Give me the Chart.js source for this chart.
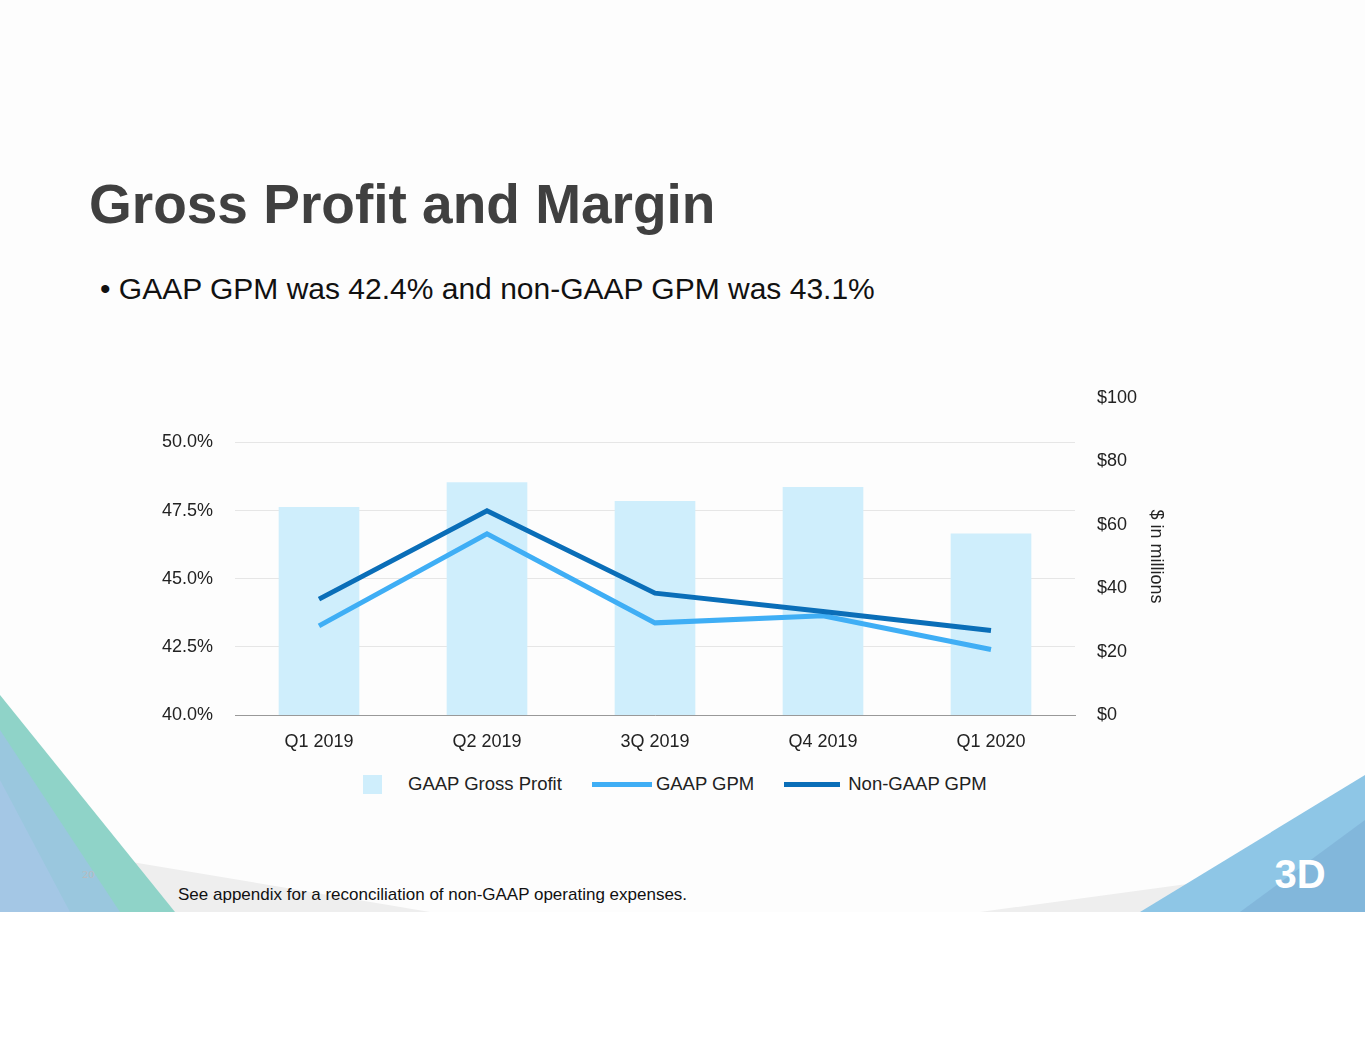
<!DOCTYPE html>
<html>
<head>
<meta charset="utf-8">
<script src="https://cdn.jsdelivr.net/npm/chart.js@4"></script>
<style>
  body { margin: 0; width: 1365px; height: 1055px; background: #fff; font-family: "Liberation Sans", Arial, sans-serif; position: relative; overflow: hidden; }
  .slide { position: absolute; left: 0; top: 0; width: 1365px; height: 912px; background: #fdfdfd; overflow: hidden; }
  .title { position: absolute; left: 89px; top: 172px; font-size: 55px; font-weight: bold; color: #404040; }
  .bullet { position: absolute; left: 100px; top: 272px; font-size: 30px; color: #111; }
  .tri { position: absolute; left: 0; top: 0; width: 1365px; height: 912px; }
  #wrap { position: absolute; left: 150px; top: 365px; width: 1017px; height: 395px; }
  .legend { position: absolute; top: 773px; left: 363px; font-size: 18.5px; color: #222; display: flex; align-items: center; }
  .legend span { display: inline-flex; align-items: center; margin-right: 30px; }
  .sw { display: inline-block; margin-right: 26px; }
  .foot { position: absolute; left: 178px; top: 885px; font-size: 17px; color: #111; }
  .pg { position: absolute; left: 82px; top: 869px; font-size: 10px; color: #bbb; font-family: "DejaVu Serif", serif; }
</style>
</head>
<body>
<div class="slide">
  <svg class="tri" viewBox="0 0 1365 912">
    <polygon points="0,840 430,912 0,912" fill="#eeeeee"/>
    <polygon points="980,912 1365,860 1365,912" fill="#eeeeee"/>
    <polygon points="0,695 175,912 0,912" fill="#8fd3c8"/>
    <polygon points="0,730 120,912 0,912" fill="#9cc4e4" opacity="0.8"/>
    <polygon points="0,780 70,912 0,912" fill="#a8c8e8" opacity="0.7"/>
    <polygon points="1365,775 1140,912 1365,912" fill="#8ec6e6"/>
    <polygon points="1365,820 1240,912 1365,912" fill="#7fb3d8" opacity="0.8"/>
    <text x="1300" y="888" font-size="40" font-weight="bold" fill="#fff" font-family="Liberation Sans" text-anchor="middle">3D</text>
  </svg>
  <div class="title">Gross Profit and Margin</div>
  <div class="bullet">• GAAP GPM was 42.4% and non-GAAP GPM was 43.1%</div>
  <div class="pg">20</div>
  <div class="foot">See appendix for a reconciliation of non-GAAP operating expenses.</div>
</div>
<div id="wrap"><canvas id="c"></canvas></div>
<div class="legend">
  <span><i class="sw" style="width:19px;height:19px;background:#cfeefc"></i>GAAP Gross Profit</span>
  <span><i class="sw" style="width:60px;height:5px;background:#3faef5;margin-right:4px"></i>GAAP GPM</span>
  <span><i class="sw" style="width:56px;height:5px;background:#0a6eb8;margin-right:8px"></i>Non-GAAP GPM</span>
</div>
<script>
const quarters = ["Q1 2019", "Q2 2019", "3Q 2019", "Q4 2019", "Q1 2020"];
const grossProfit = [65.6, 73.4, 67.5, 71.9, 57.2];
const gaapGpm = [43.27, 46.65, 43.38, 43.64, 42.4];
const nonGaapGpm = [44.25, 47.49, 44.47, 43.8, 43.1];

const tickFont = { family: "Liberation Sans", size: 18 };

new Chart(document.getElementById("c"), {
  data: {
    labels: quarters,
    datasets: [
      { type: "line", label: "Non-GAAP GPM", data: nonGaapGpm, yAxisID: "y", borderColor: "#0a6eb8", borderWidth: 5, pointRadius: 0, tension: 0, order: 1 },
      { type: "line", label: "GAAP GPM", data: gaapGpm, yAxisID: "y", borderColor: "#3faef5", borderWidth: 5, pointRadius: 0, tension: 0, order: 2 },
      { type: "bar", label: "GAAP Gross Profit", data: grossProfit, yAxisID: "y1", backgroundColor: "#cfeefc", barPercentage: 0.48, categoryPercentage: 1, order: 3 },
    ],
  },
  options: {
    responsive: true,
    maintainAspectRatio: false,
    animation: false,
    layout: { padding: { top: 0 } },
    plugins: { legend: { display: false }, tooltip: { enabled: false } },
    scales: {
      x: {
        grid: { display: false },
        border: { color: "#999" },
        ticks: { color: "#222", font: tickFont, padding: 8 },
        afterFit: (a) => { a.height = 45; },
      },
      y: {
        position: "left",
        min: 40, max: 51.636,
        afterBuildTicks: (a) => { a.ticks = [40, 42.5, 45, 47.5, 50].map(v => ({ value: v })); },
        ticks: { color: "#222", font: tickFont, padding: 22, callback: (v) => v.toFixed(1) + "%" },
        grid: { color: "#e6e6e6", drawTicks: false },
        border: { display: false },
        afterFit: (a) => { a.width = 85; },
      },
      y1: {
        position: "right",
        min: 0, max: 100,
        ticks: { stepSize: 20, color: "#222", font: tickFont, padding: 22, callback: (v) => "$" + v },
        grid: { display: false, drawTicks: false },
        border: { display: false },
        title: { display: true, text: "$ in millions", color: "#222", font: tickFont, padding: 0 },
        afterFit: (a) => { a.width = 92; },
      },
    },
  },
});
</script>
</body>
</html>
